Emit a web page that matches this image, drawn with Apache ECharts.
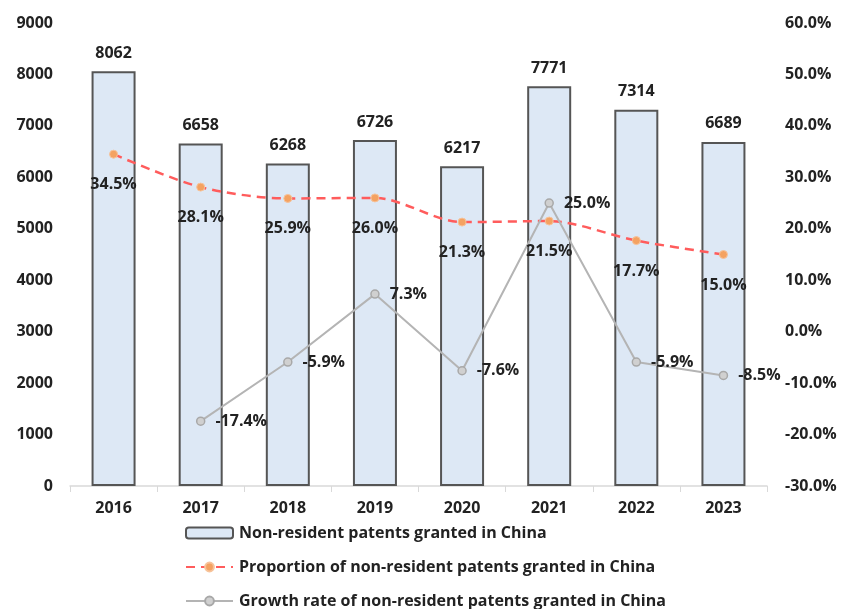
<!DOCTYPE html>
<html>
<head>
<meta charset="utf-8">
<script src="https://cdn.jsdelivr.net/npm/echarts@6/dist/echarts.min.js"></script>
<style>html,body{margin:0;padding:0;background:#fff;}#c{width:844px;height:609px;}</style>
</head>
<body>
<div id="c"></div>
<script>
const years = ['2016','2017','2018','2019','2020','2021','2022','2023'];
const patents = [8062, 6658, 6268, 6726, 6217, 7771, 7314, 6689];
const proportion = [34.5, 28.1, 25.9, 26.0, 21.3, 21.5, 17.7, 15.0];
const growth = [null, -17.4, -5.9, 7.3, -7.6, 25.0, -5.9, -8.5];
const names = ['Non-resident patents granted in China','Proportion of non-resident patents granted in China','Growth rate of non-resident patents granted in China'];

const FONT = 'Open Sans';
const txt = {fontFamily: FONT, fontWeight: 'bold', fontSize: 16, color: '#222'};
const chart = echarts.init(document.getElementById('c'));
chart.setOption({
  animation: false,
  textStyle: {fontFamily: FONT},
  grid: {left: 70, right: 77, top: 23, bottom: 123},
  legend: {
    orient: 'vertical', left: 185, top: 525, padding: 0, itemWidth: 47, itemHeight: 11, itemGap: 18,
    textStyle: Object.assign({}, txt, {fontSize: 16, padding: [0, 0, 0, 1]}),
    data: names
  },
  xAxis: {
    type: 'category', data: years,
    axisLine: {lineStyle: {color: '#d9d9d9', width: 1.5}},
    axisTick: {show: true, length: 6, lineStyle: {color: '#d9d9d9'}},
    axisLabel: Object.assign({margin: 14}, txt)
  },
  yAxis: [
    {type: 'value', min: 0, max: 9000, interval: 1000,
     splitLine: {show: false}, axisLine: {show: false},
     axisLabel: Object.assign({margin: 17, formatter: v => String(v)}, txt)},
    {type: 'value', min: -30, max: 60, interval: 10,
     splitLine: {show: false}, axisLine: {show: false},
     axisLabel: Object.assign({margin: 18, formatter: v => v.toFixed(1) + '%'}, txt)}
  ],
  series: [
    {name: names[0], type: 'bar', data: patents, barWidth: 44,
     itemStyle: {color: '#dde8f5', borderColor: '#555', borderWidth: 2},
     label: Object.assign({show: true, position: 'top', distance: 10}, txt)},
    {name: names[1], type: 'line', yAxisIndex: 1, data: proportion, smooth: 0.3,
     symbol: 'circle', symbolSize: 8,
     lineStyle: {color: '#ff5c5c', width: 2.5, type: [9, 6]},
     itemStyle: {color: '#f4a261', borderColor: '#f7c39a', borderWidth: 1},
     label: Object.assign({show: true, position: 'bottom', distance: 18, formatter: p => p.value.toFixed(1) + '%'}, txt)},
    {name: names[2], type: 'line', yAxisIndex: 1, data: growth,
     symbol: 'circle', symbolSize: 8,
     lineStyle: {color: '#b4b4b4', width: 2},
     itemStyle: {color: '#d0d0d0', borderColor: '#a8a8a8', borderWidth: 1.5},
     label: Object.assign({show: true, position: 'right', distance: 10, formatter: p => p.value == null ? '' : p.value.toFixed(1) + '%'}, txt)}
  ]
});
</script>
</body>
</html>
